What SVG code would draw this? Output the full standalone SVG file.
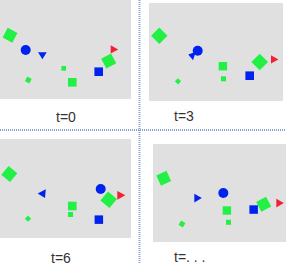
<svg xmlns="http://www.w3.org/2000/svg" width="286" height="264" viewBox="0 0 286 264">
<style>
.bg{fill:#e0e0e0}
.g{fill:#22f044}
.b{fill:#0022ee}
.r{fill:#ee2233}
.lbl{font-family:"Liberation Sans",Arial,sans-serif;font-size:14px;fill:#333}
.sep{stroke:#8aa2cc;stroke-width:2;stroke-dasharray:1 1;fill:none}
</style>
<rect width="286" height="264" fill="#ffffff"/>
<g id="connectors">
<line class="sep" x1="139.5" y1="0" x2="139.5" y2="264"/>
<line class="sep" x1="0" y1="130" x2="286" y2="130"/>
</g>
<g id="panel-t0">
<rect class="bg" x="0" y="0" width="131" height="99"/>
<rect class="g" x="-5.5" y="-5.5" width="11" height="11" transform="translate(10,35.3) rotate(28)"/>
<circle class="b" cx="25.7" cy="50" r="5"/>
<polygon class="b" points="38,52.3 46.7,52.3 42.4,59.3"/>
<rect class="g" x="61.4" y="66" width="4.7" height="4.7"/>
<rect class="g" x="68" y="78" width="8.6" height="8.6"/>
<rect class="g" x="-2.5" y="-2.5" width="5" height="5" transform="translate(28.3,80) rotate(30)"/>
<rect class="b" x="94.4" y="67.4" width="8.6" height="8.6"/>
<rect class="g" x="-5.6" y="-5.6" width="11.2" height="11.2" transform="translate(108.7,61) rotate(-28)"/>
<polygon class="r" points="110.7,45.3 110.7,53.6 118.2,49.6"/>
<text class="lbl" x="56" y="122">t=0</text>
</g>
<g id="panel-t3">
<rect class="bg" x="149" y="3" width="134" height="98"/>
<rect class="g" x="-5.8" y="-5.8" width="11.6" height="11.6" transform="translate(159.3,35.7) rotate(45)"/>
<polygon class="b" points="188.3,54.5 195.8,51.8 193,60.2"/>
<circle class="b" cx="197.7" cy="50.7" r="5"/>
<rect class="g" x="218.7" y="62" width="8.4" height="8.4"/>
<rect class="g" x="221" y="76.3" width="5" height="5"/>
<rect class="g" x="-2.2" y="-2.2" width="4.4" height="4.4" transform="translate(178,81.3) rotate(45)"/>
<rect class="b" x="245.4" y="71.4" width="8.6" height="8.6"/>
<rect class="g" x="-5.9" y="-5.9" width="11.8" height="11.8" transform="translate(259.7,62) rotate(45)"/>
<polygon class="r" points="271,55.3 271,63.6 278.4,59.6"/>
<text class="lbl" x="174" y="121">t=3</text>
</g>
<g id="panel-t6">
<rect class="bg" x="0" y="139" width="131" height="99"/>
<rect class="g" x="-5.7" y="-5.7" width="11.4" height="11.4" transform="translate(9.3,174) rotate(40)"/>
<polygon class="b" points="37.7,193.4 45.8,189.3 45,198.1"/>
<circle class="b" cx="100.7" cy="189" r="5"/>
<rect class="g" x="-5.9" y="-5.9" width="11.8" height="11.8" transform="translate(108.7,199.7) rotate(40)"/>
<polygon class="r" points="117.3,191 117.3,199.7 125.3,195.3"/>
<rect class="g" x="68" y="201.7" width="8.6" height="8.6"/>
<rect class="g" x="68" y="212" width="5" height="5"/>
<rect class="g" x="-2.2" y="-2.2" width="4.4" height="4.4" transform="translate(28,218.7) rotate(45)"/>
<rect class="b" x="94.6" y="215.4" width="8.5" height="8.5"/>
<text class="lbl" x="51" y="262.5">t=6</text>
</g>
<g id="panel-tn">
<rect class="bg" x="153" y="144" width="133" height="98"/>
<rect class="g" x="-5.6" y="-5.6" width="11.2" height="11.2" transform="translate(163.7,178.3) rotate(-25)"/>
<polygon class="b" points="194.3,193.7 194.3,202.4 201.8,198"/>
<circle class="b" cx="223.3" cy="193" r="5"/>
<rect class="g" x="222.7" y="206.3" width="8.4" height="8.4"/>
<rect class="g" x="226" y="219.8" width="5" height="5"/>
<rect class="g" x="-2.5" y="-2.5" width="5" height="5" transform="translate(182,224) rotate(30)"/>
<rect class="b" x="249.4" y="205.3" width="8.5" height="8.5"/>
<rect class="g" x="-5.6" y="-5.6" width="11.2" height="11.2" transform="translate(263.7,204.3) rotate(-28)"/>
<polygon class="r" points="276.3,198.7 276.3,207.4 283.8,203"/>
<text class="lbl" x="174" y="262">t=. . .</text>
</g>
</svg>
